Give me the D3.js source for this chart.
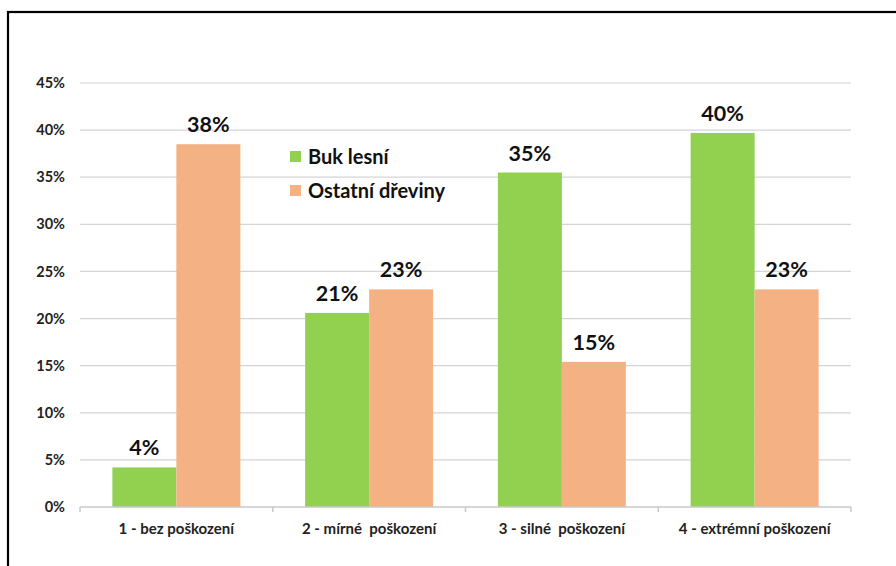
<!DOCTYPE html>
<html><head><meta charset="utf-8">
<script src="https://cdn.jsdelivr.net/npm/d3@7"></script>
<style>
html,body{margin:0;padding:0;background:#fff;}
svg text{font-family:Lato,"Open Sans",sans-serif;}
</style></head>
<body>
<svg id="c" width="896" height="566"></svg>
<script>
const categories = ["1 - bez poškození","2 - mírné  poškození","3 - silné  poškození","4 - extrémní poškození"];
const seriesNames = ["Buk lesní","Ostatní dřeviny"];
const bukValues = [4.2, 20.6, 35.5, 39.7];
const ostatniValues = [38.5, 23.1, 15.4, 23.1];
const bukLabels = ["4%","21%","35%","40%"];
const ostatniLabels = ["38%","23%","15%","23%"];
const yTicks = [0,5,10,15,20,25,30,35,40,45];
const colors = ["#92D050","#F4B183"];

const svg = d3.select("#c");
// frame
svg.append("rect").attr("x",8).attr("y",12).attr("width",900).attr("height",600)
  .attr("fill","none").attr("stroke","#000").attr("stroke-width",2.2);

const pLeft=80,pRight=851,pTop=83,pBottom=507;
const y = d3.scaleLinear().domain([0,45]).range([pBottom,pTop]);
const x0 = d3.scaleBand().domain(categories).range([pLeft,pRight]).paddingInner(0.336).paddingOuter(0.168);
const x1 = d3.scaleBand().domain(seriesNames).range([0,x0.bandwidth()]);

// gridlines
svg.append("g").selectAll("line").data(yTicks.filter(t=>t>0)).join("line")
  .attr("x1",pLeft).attr("x2",pRight).attr("y1",d=>y(d)).attr("y2",d=>y(d))
  .attr("stroke","#d4d4d4").attr("stroke-width",1.2);

// y axis labels
const ya = svg.append("g").attr("transform",`translate(${pLeft},0)`)
  .call(d3.axisLeft(y).tickValues(yTicks).tickFormat(d=>d+"%").tickSize(0).tickPadding(15));
ya.select(".domain").remove();
ya.selectAll("text").attr("font-size",14.5).attr("font-weight","bold").attr("fill","#222")
  .attr("font-family","Lato, sans-serif");

const data = categories.map((c,i)=>({cat:c, vals:[
  {s:seriesNames[0],v:bukValues[i],lab:bukLabels[i]},
  {s:seriesNames[1],v:ostatniValues[i],lab:ostatniLabels[i]}]}));

const g = svg.append("g").selectAll("g").data(data).join("g")
  .attr("transform",d=>`translate(${x0(d.cat)},0)`);
g.selectAll("rect").data(d=>d.vals).join("rect")
  .attr("x",d=>x1(d.s)).attr("width",x1.bandwidth())
  .attr("y",d=>y(d.v)).attr("height",d=>pBottom-y(d.v))
  .attr("fill",(d,i)=>colors[i]);
g.selectAll("text").data(d=>d.vals).join("text")
  .attr("x",d=>x1(d.s)+x1.bandwidth()/2).attr("y",d=>y(d.v)-12)
  .attr("text-anchor","middle").attr("font-size",21.5).attr("font-weight","bold").attr("fill","#111")
  .text(d=>d.lab);

// x axis
const xa = svg.append("g").attr("transform",`translate(0,${pBottom})`)
  .call(d3.axisBottom(x0).tickSize(0).tickPadding(16));
xa.select(".domain").remove();
xa.selectAll("text").attr("font-size",15).attr("font-weight","bold").attr("fill","#222")
  .attr("font-family","Lato, sans-serif").style("white-space","pre");
svg.append("line").attr("x1",pLeft).attr("x2",pRight).attr("y1",pBottom).attr("y2",pBottom)
  .attr("stroke","#c8c8c8").attr("stroke-width",1.5);
const bounds = categories.map(c=>x0(c)-x0.step()*x0.paddingInner()/2).concat([pRight]);
svg.append("g").selectAll("line").data(bounds).join("line")
  .attr("x1",d=>d).attr("x2",d=>d).attr("y1",pBottom).attr("y2",pBottom+5)
  .attr("stroke","#c8c8c8").attr("stroke-width",1.5);

// legend
const lg = svg.append("g").selectAll("g").data(seriesNames).join("g")
  .attr("transform",(d,i)=>`translate(290,${151+i*34})`);
lg.append("rect").attr("width",11).attr("height",11).attr("fill",(d,i)=>colors[i]);
lg.append("text").attr("x",18).attr("y",13).attr("font-size",20).attr("font-weight","bold")
  .attr("fill","#111").text(d=>d);
</script>
</body></html>
